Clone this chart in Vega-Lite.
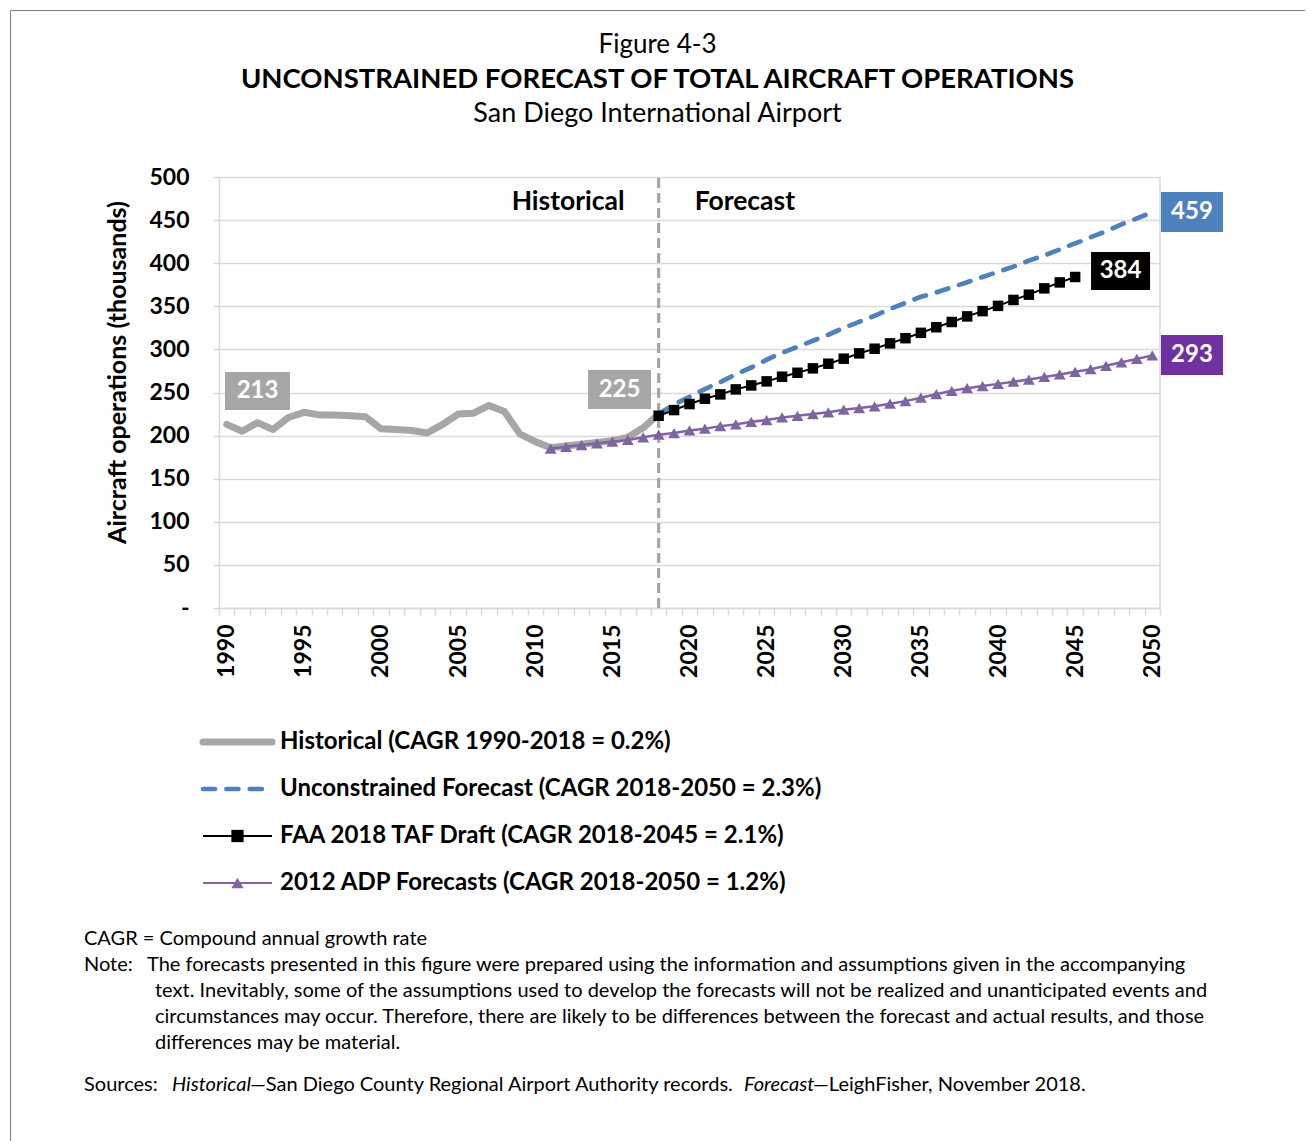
{
  "$schema": "https://vega.github.io/schema/vega-lite/v6.json",
  "width": 1295,
  "height": 1140,
  "autosize": {"type": "none"},
  "padding": {"left": 10, "top": 10, "right": 0, "bottom": 0},
  "background": "white",
  "config": {"view": {"stroke": "#7f7f7f", "strokeWidth": 1}, "font": "Lato"},
  "datasets": {
    "ops": [
      {"series": "Historical", "year": 1990, "value": 213},
      {"series": "Historical", "year": 1991, "value": 205},
      {"series": "Historical", "year": 1992, "value": 215},
      {"series": "Historical", "year": 1993, "value": 207},
      {"series": "Historical", "year": 1994, "value": 221},
      {"series": "Historical", "year": 1995, "value": 227},
      {"series": "Historical", "year": 1996, "value": 224},
      {"series": "Historical", "year": 1997, "value": 224},
      {"series": "Historical", "year": 1998, "value": 223},
      {"series": "Historical", "year": 1999, "value": 222},
      {"series": "Historical", "year": 2000, "value": 208},
      {"series": "Historical", "year": 2001, "value": 207},
      {"series": "Historical", "year": 2002, "value": 206},
      {"series": "Historical", "year": 2003, "value": 203},
      {"series": "Historical", "year": 2004, "value": 213},
      {"series": "Historical", "year": 2005, "value": 225},
      {"series": "Historical", "year": 2006, "value": 226},
      {"series": "Historical", "year": 2007, "value": 235},
      {"series": "Historical", "year": 2008, "value": 228},
      {"series": "Historical", "year": 2009, "value": 202},
      {"series": "Historical", "year": 2010, "value": 193},
      {"series": "Historical", "year": 2011, "value": 186},
      {"series": "Historical", "year": 2012, "value": 188},
      {"series": "Historical", "year": 2013, "value": 190},
      {"series": "Historical", "year": 2014, "value": 192},
      {"series": "Historical", "year": 2015, "value": 194},
      {"series": "Historical", "year": 2016, "value": 198},
      {"series": "Historical", "year": 2017, "value": 209},
      {"series": "Historical", "year": 2018, "value": 225},
      {"series": "Unconstrained", "year": 2018, "value": 225},
      {"series": "Unconstrained", "year": 2019, "value": 236},
      {"series": "Unconstrained", "year": 2020, "value": 245},
      {"series": "Unconstrained", "year": 2021, "value": 254},
      {"series": "Unconstrained", "year": 2022, "value": 262},
      {"series": "Unconstrained", "year": 2023, "value": 271},
      {"series": "Unconstrained", "year": 2024, "value": 279},
      {"series": "Unconstrained", "year": 2025, "value": 288},
      {"series": "Unconstrained", "year": 2026, "value": 296},
      {"series": "Unconstrained", "year": 2027, "value": 303},
      {"series": "Unconstrained", "year": 2028, "value": 310},
      {"series": "Unconstrained", "year": 2029, "value": 317},
      {"series": "Unconstrained", "year": 2030, "value": 325},
      {"series": "Unconstrained", "year": 2031, "value": 332},
      {"series": "Unconstrained", "year": 2032, "value": 339},
      {"series": "Unconstrained", "year": 2033, "value": 347},
      {"series": "Unconstrained", "year": 2034, "value": 354},
      {"series": "Unconstrained", "year": 2035, "value": 361},
      {"series": "Unconstrained", "year": 2036, "value": 366},
      {"series": "Unconstrained", "year": 2037, "value": 372},
      {"series": "Unconstrained", "year": 2038, "value": 378},
      {"series": "Unconstrained", "year": 2039, "value": 384},
      {"series": "Unconstrained", "year": 2040, "value": 390},
      {"series": "Unconstrained", "year": 2041, "value": 396},
      {"series": "Unconstrained", "year": 2042, "value": 403},
      {"series": "Unconstrained", "year": 2043, "value": 409},
      {"series": "Unconstrained", "year": 2044, "value": 416},
      {"series": "Unconstrained", "year": 2045, "value": 423},
      {"series": "Unconstrained", "year": 2046, "value": 430},
      {"series": "Unconstrained", "year": 2047, "value": 437},
      {"series": "Unconstrained", "year": 2048, "value": 445},
      {"series": "Unconstrained", "year": 2049, "value": 452},
      {"series": "Unconstrained", "year": 2050, "value": 459},
      {"series": "FAA", "year": 2018, "value": 223},
      {"series": "FAA", "year": 2019, "value": 229.6},
      {"series": "FAA", "year": 2020, "value": 236.6},
      {"series": "FAA", "year": 2021, "value": 242.8},
      {"series": "FAA", "year": 2022, "value": 247.8},
      {"series": "FAA", "year": 2023, "value": 253.6},
      {"series": "FAA", "year": 2024, "value": 258.2},
      {"series": "FAA", "year": 2025, "value": 262.9},
      {"series": "FAA", "year": 2026, "value": 268.3},
      {"series": "FAA", "year": 2027, "value": 272.9},
      {"series": "FAA", "year": 2028, "value": 278},
      {"series": "FAA", "year": 2029, "value": 283.4},
      {"series": "FAA", "year": 2030, "value": 289.2},
      {"series": "FAA", "year": 2031, "value": 295.4},
      {"series": "FAA", "year": 2032, "value": 300.8},
      {"series": "FAA", "year": 2033, "value": 307},
      {"series": "FAA", "year": 2034, "value": 313},
      {"series": "FAA", "year": 2035, "value": 319.2},
      {"series": "FAA", "year": 2036, "value": 325.7},
      {"series": "FAA", "year": 2037, "value": 331.8},
      {"series": "FAA", "year": 2038, "value": 338.3},
      {"series": "FAA", "year": 2039, "value": 344.4},
      {"series": "FAA", "year": 2040, "value": 350.5},
      {"series": "FAA", "year": 2041, "value": 357.4},
      {"series": "FAA", "year": 2042, "value": 363.5},
      {"series": "FAA", "year": 2043, "value": 370.8},
      {"series": "FAA", "year": 2044, "value": 377.7},
      {"series": "FAA", "year": 2045, "value": 384},
      {"series": "ADP", "year": 2011, "value": 185},
      {"series": "ADP", "year": 2012, "value": 187},
      {"series": "ADP", "year": 2013, "value": 189},
      {"series": "ADP", "year": 2014, "value": 191},
      {"series": "ADP", "year": 2015, "value": 193},
      {"series": "ADP", "year": 2016, "value": 195},
      {"series": "ADP", "year": 2017, "value": 198},
      {"series": "ADP", "year": 2018, "value": 201},
      {"series": "ADP", "year": 2019, "value": 203},
      {"series": "ADP", "year": 2020, "value": 206},
      {"series": "ADP", "year": 2021, "value": 208},
      {"series": "ADP", "year": 2022, "value": 211},
      {"series": "ADP", "year": 2023, "value": 213},
      {"series": "ADP", "year": 2024, "value": 216},
      {"series": "ADP", "year": 2025, "value": 218},
      {"series": "ADP", "year": 2026, "value": 221},
      {"series": "ADP", "year": 2027, "value": 223},
      {"series": "ADP", "year": 2028, "value": 225},
      {"series": "ADP", "year": 2029, "value": 227},
      {"series": "ADP", "year": 2030, "value": 230},
      {"series": "ADP", "year": 2031, "value": 232},
      {"series": "ADP", "year": 2032, "value": 234},
      {"series": "ADP", "year": 2033, "value": 237},
      {"series": "ADP", "year": 2034, "value": 240},
      {"series": "ADP", "year": 2035, "value": 244},
      {"series": "ADP", "year": 2036, "value": 248},
      {"series": "ADP", "year": 2037, "value": 252},
      {"series": "ADP", "year": 2038, "value": 255},
      {"series": "ADP", "year": 2039, "value": 257.5},
      {"series": "ADP", "year": 2040, "value": 260},
      {"series": "ADP", "year": 2041, "value": 262.5},
      {"series": "ADP", "year": 2042, "value": 265},
      {"series": "ADP", "year": 2043, "value": 268},
      {"series": "ADP", "year": 2044, "value": 271},
      {"series": "ADP", "year": 2045, "value": 274},
      {"series": "ADP", "year": 2046, "value": 277},
      {"series": "ADP", "year": 2047, "value": 281},
      {"series": "ADP", "year": 2048, "value": 285},
      {"series": "ADP", "year": 2049, "value": 289},
      {"series": "ADP", "year": 2050, "value": 293}
    ],
    "titles": [
      {"row": 0, "text": "Figure 4-3"},
      {"row": 1, "text": "UNCONSTRAINED FORECAST OF TOTAL AIRCRAFT OPERATIONS"},
      {"row": 2, "text": "San Diego International Airport"}
    ],
    "legend": [
      {"key": "Historical (CAGR 1990-2018 = 0.2%)"},
      {"key": "Unconstrained Forecast (CAGR 2018-2050 = 2.3%)"},
      {"key": "FAA 2018 TAF Draft (CAGR 2018-2045 = 2.1%)"},
      {"key": "2012 ADP Forecasts (CAGR 2018-2050 = 1.2%)"}
    ],
    "notes": [
      {"row": 0, "col": 0, "italic": false, "text": "CAGR = Compound annual growth rate"},
      {"row": 1, "col": 0, "italic": false, "text": "Note:"},
      {"row": 1, "col": 1, "italic": false, "text": "The forecasts presented in this figure were prepared using the information and assumptions given in the accompanying"},
      {"row": 2, "col": 2, "italic": false, "text": "text.  Inevitably, some of the assumptions used to develop the forecasts will not be realized and unanticipated events and"},
      {"row": 3, "col": 2, "italic": false, "text": "circumstances may occur.  Therefore, there are likely to be differences between the forecast and actual results, and those"},
      {"row": 4, "col": 2, "italic": false, "text": "differences may be material."},
      {"row": 5, "col": 0, "italic": false, "text": "Sources:"},
      {"row": 5, "col": 3, "italic": true, "text": "Historical"},
      {"row": 5, "col": 4, "italic": false, "text": "—San Diego County Regional Airport Authority records."},
      {"row": 5, "col": 5, "italic": true, "text": "Forecast"},
      {"row": 5, "col": 6, "italic": false, "text": "—LeighFisher, November 2018."}
    ]
  },
  "resolve": {"scale": {"x": "independent", "y": "independent", "color": "independent", "strokeDash": "independent", "shape": "independent"}},
  "layer": [
    {
      "data": {"name": "ops"},
      "transform": [{"filter": "datum.series === 'Historical' && datum.year === 1990"}],
      "mark": {"type": "rule", "color": "#d9d9d9", "strokeWidth": 1.5},
      "encoding": {
        "x": {"datum": 2050.5, "type": "quantitative", "scale": {"domain": [1989.5, 2050.5], "range": [209, 1150], "nice": false, "zero": false}, "axis": null},
        "y": {"datum": 0, "type": "quantitative", "scale": {"domain": [0, 500], "range": [598, 167], "nice": false, "zero": false}, "axis": null},
        "y2": {"datum": 500}
      }
    },
    {
      "data": {"name": "ops"},
      "transform": [{"filter": "datum.series === 'Historical' && datum.year === 2018"}],
      "mark": {"type": "rule", "color": "#a6a6a6", "strokeWidth": 3.2, "strokeDash": [10, 5]},
      "encoding": {
        "x": {"field": "year", "type": "quantitative", "scale": {"domain": [1989.5, 2050.5], "range": [209, 1150], "nice": false, "zero": false}, "axis": null},
        "y": {"datum": 0, "type": "quantitative", "scale": {"domain": [0, 500], "range": [598, 167], "nice": false, "zero": false}, "axis": null},
        "y2": {"datum": 503}
      }
    },
    {
      "data": {"name": "ops"},
      "transform": [{"filter": "datum.series === 'Historical'"}],
      "mark": {"type": "line", "color": "#a6a6a6", "strokeWidth": 7, "strokeCap": "round", "strokeJoin": "round"},
      "encoding": {
        "x": {
          "field": "year", "type": "quantitative",
          "scale": {"domain": [1989.5, 2050.5], "range": [209, 1150], "nice": false, "zero": false},
          "axis": {
            "orient": "bottom", "offset": -542, "title": null, "grid": false,
            "values": [1989.5,1990.5,1991.5,1992.5,1993.5,1994.5,1995.5,1996.5,1997.5,1998.5,1999.5,2000.5,2001.5,2002.5,2003.5,2004.5,2005.5,2006.5,2007.5,2008.5,2009.5,2010.5,2011.5,2012.5,2013.5,2014.5,2015.5,2016.5,2017.5,2018.5,2019.5,2020.5,2021.5,2022.5,2023.5,2024.5,2025.5,2026.5,2027.5,2028.5,2029.5,2030.5,2031.5,2032.5,2033.5,2034.5,2035.5,2036.5,2037.5,2038.5,2039.5,2040.5,2041.5,2042.5,2043.5,2044.5,2045.5,2046.5,2047.5,2048.5,2049.5,2050.5],
            "labelExpr": "(datum.value + 0.5) % 5 === 0 ? '' + (datum.value + 0.5) : ''",
            "labelAngle": 270, "labelOffset": 7.7, "labelFlush": false, "labelBound": false, "labelOverlap": false,
            "labelFont": "Lato", "labelFontSize": 23, "labelFontWeight": "bold", "labelColor": "#000000", "labelPadding": 9,
            "tickSize": 7, "tickColor": "#d9d9d9", "tickWidth": 1.5, "domainColor": "#d9d9d9", "domainWidth": 1.5
          }
        },
        "y": {
          "field": "value", "type": "quantitative",
          "scale": {"domain": [0, 500], "range": [598, 167], "nice": false, "zero": false},
          "axis": {
            "orient": "left", "offset": -209,
            "values": [0, 50, 100, 150, 200, 250, 300, 350, 400, 450, 500],
            "labelExpr": "datum.value === 0 ? '-\u2003' : datum.label",
            "labelFont": "Lato", "labelFontSize": 23, "labelFontWeight": "bold", "labelColor": "#000000", "labelPadding": 24,
            "tickSize": 6, "tickColor": "#d9d9d9", "tickWidth": 1.5, "domainColor": "#d9d9d9", "domainWidth": 1.5,
            "grid": true, "gridColor": "#d9d9d9", "gridWidth": 1.5,
            "title": "Aircraft operations (thousands)", "titleFont": "Lato", "titleFontSize": 25, "titleFontWeight": "bold", "titleColor": "#000000",
            "titleX": -89, "titleY": 362
          }
        }
      }
    },
    {
      "data": {"name": "ops"},
      "transform": [{"filter": "datum.series === 'Unconstrained'"}],
      "mark": {"type": "line", "color": "#4f81bd", "strokeWidth": 4.7, "strokeCap": "round", "strokeDash": [12, 11.4]},
      "encoding": {
        "x": {"field": "year", "type": "quantitative", "scale": {"domain": [1989.5, 2050.5], "range": [209, 1150], "nice": false, "zero": false}, "axis": null},
        "y": {"field": "value", "type": "quantitative", "scale": {"domain": [0, 500], "range": [598, 167], "nice": false, "zero": false}, "axis": null}
      }
    },
    {
      "data": {"name": "ops"},
      "transform": [{"filter": "datum.series === 'ADP'"}],
      "mark": {"type": "line", "color": "#8064a2", "strokeWidth": 2.5, "point": {"shape": "triangle-up", "size": 140, "filled": true, "color": "#8064a2"}},
      "encoding": {
        "x": {"field": "year", "type": "quantitative", "scale": {"domain": [1989.5, 2050.5], "range": [209, 1150], "nice": false, "zero": false}, "axis": null},
        "y": {"field": "value", "type": "quantitative", "scale": {"domain": [0, 500], "range": [598, 167], "nice": false, "zero": false}, "axis": null}
      }
    },
    {
      "data": {"name": "ops"},
      "transform": [{"filter": "datum.series === 'FAA'"}],
      "mark": {"type": "line", "color": "#000000", "strokeWidth": 2, "point": {"shape": "square", "size": 110, "filled": true, "color": "#000000"}},
      "encoding": {
        "x": {"field": "year", "type": "quantitative", "scale": {"domain": [1989.5, 2050.5], "range": [209, 1150], "nice": false, "zero": false}, "axis": null},
        "y": {"field": "value", "type": "quantitative", "scale": {"domain": [0, 500], "range": [598, 167], "nice": false, "zero": false}, "axis": null}
      }
    },
    {
      "data": {"name": "ops"},
      "encoding": {
        "x": {"field": "year", "type": "quantitative", "scale": {"domain": [1989.5, 2050.5], "range": [209, 1150], "nice": false, "zero": false}, "axis": null},
        "y": {"field": "value", "type": "quantitative", "scale": {"domain": [0, 500], "range": [598, 167], "nice": false, "zero": false}, "axis": null},
        "x2": {"field": "year"},
        "y2": {"field": "value"},
        "text": {"field": "value", "type": "quantitative", "format": "d"}
      },
      "layer": [
        {
          "transform": [{"filter": "datum.series === 'Historical' && datum.year === 1990"}],
          "mark": {"type": "rect", "color": "#a6a6a6", "xOffset": -1.7, "x2Offset": 63.3, "yOffset": -52.4, "y2Offset": -14.4}
        },
        {
          "transform": [{"filter": "datum.series === 'Historical' && datum.year === 1990"}],
          "mark": {"type": "text", "color": "#ffffff", "fontSize": 24, "fontWeight": "bold", "align": "center", "baseline": "middle", "dx": 30.8, "dy": -33.4}
        },
        {
          "transform": [{"filter": "datum.series === 'Historical' && datum.year === 2018"}],
          "mark": {"type": "rect", "color": "#a6a6a6", "xOffset": -70.6, "x2Offset": -7.6, "yOffset": -44, "y2Offset": -5}
        },
        {
          "transform": [{"filter": "datum.series === 'Historical' && datum.year === 2018"}],
          "mark": {"type": "text", "color": "#ffffff", "fontSize": 24, "fontWeight": "bold", "align": "center", "baseline": "middle", "dx": -39.1, "dy": -24.5}
        },
        {
          "transform": [{"filter": "datum.series === 'Unconstrained' && datum.year === 2050"}],
          "mark": {"type": "rect", "color": "#4f81bd", "xOffset": 8.7, "x2Offset": 70.7, "yOffset": -20.3, "y2Offset": 19.7}
        },
        {
          "transform": [{"filter": "datum.series === 'Unconstrained' && datum.year === 2050"}],
          "mark": {"type": "text", "color": "#ffffff", "fontSize": 24, "fontWeight": "bold", "align": "center", "baseline": "middle", "dx": 39.7, "dy": 0}
        },
        {
          "transform": [{"filter": "datum.series === 'FAA' && datum.year === 2045"}],
          "mark": {"type": "rect", "color": "#000000", "xOffset": 15.9, "x2Offset": 74.9, "yOffset": -25, "y2Offset": 13}
        },
        {
          "transform": [{"filter": "datum.series === 'FAA' && datum.year === 2045"}],
          "mark": {"type": "text", "color": "#ffffff", "fontSize": 24, "fontWeight": "bold", "align": "center", "baseline": "middle", "dx": 45.4, "dy": -6}
        },
        {
          "transform": [{"filter": "datum.series === 'ADP' && datum.year === 2050"}],
          "mark": {"type": "rect", "color": "#7030a0", "xOffset": 8.7, "x2Offset": 70.7, "yOffset": -20.4, "y2Offset": 19.6}
        },
        {
          "transform": [{"filter": "datum.series === 'ADP' && datum.year === 2050"}],
          "mark": {"type": "text", "color": "#ffffff", "fontSize": 24, "fontWeight": "bold", "align": "center", "baseline": "middle", "dx": 39.7, "dy": 0}
        }
      ]
    },
    {
      "data": {"name": "ops"},
      "transform": [{"filter": "datum.series === 'Historical' && datum.year === 2018"}],
      "encoding": {
        "x": {"field": "year", "type": "quantitative", "scale": {"domain": [1989.5, 2050.5], "range": [209, 1150], "nice": false, "zero": false}, "axis": null},
        "y": {"datum": 462, "type": "quantitative", "scale": {"domain": [0, 500], "range": [598, 167], "nice": false, "zero": false}, "axis": null}
      },
      "layer": [
        {"mark": {"type": "text", "text": "Historical", "color": "#000000", "fontSize": 26.5, "fontWeight": "bold", "align": "right", "baseline": "alphabetic", "dx": -34}},
        {"mark": {"type": "text", "text": "Forecast", "color": "#000000", "fontSize": 26.5, "fontWeight": "bold", "align": "left", "baseline": "alphabetic", "dx": 36}}
      ]
    },
    {
      "data": {"name": "titles"},
      "encoding": {
        "x": {"datum": 0, "type": "quantitative", "scale": {"domain": [-1, 1], "range": [0, 1295], "nice": false, "zero": false}, "axis": null},
        "y": {"field": "row", "type": "quantitative", "scale": {"domain": [0, 1, 2], "range": [43, 78, 112], "nice": false, "zero": false}, "axis": null},
        "text": {"field": "text"}
      },
      "layer": [
        {
          "transform": [{"filter": "datum.row === 0"}],
          "mark": {"type": "text", "color": "#000000", "fontSize": 26, "align": "center", "baseline": "alphabetic"}
        },
        {
          "transform": [{"filter": "datum.row === 2"}],
          "mark": {"type": "text", "color": "#000000", "fontSize": 27, "align": "center", "baseline": "alphabetic"}
        },
        {
          "transform": [{"filter": "datum.row === 1"}],
          "mark": {"type": "text", "color": "#000000", "fontSize": 27.5, "fontWeight": "bold", "align": "center", "baseline": "alphabetic"}
        }
      ]
    },
    {
      "data": {"name": "legend"},
      "encoding": {
        "x": {"datum": 0, "type": "quantitative", "scale": {"domain": [0, 1], "range": [193, 262], "nice": false, "zero": false}, "axis": null},
        "y": {
          "field": "key", "type": "nominal", "sort": null,
          "scale": {"type": "point", "domain": ["Historical (CAGR 1990-2018 = 0.2%)", "Unconstrained Forecast (CAGR 2018-2050 = 2.3%)", "FAA 2018 TAF Draft (CAGR 2018-2045 = 2.1%)", "2012 ADP Forecasts (CAGR 2018-2050 = 1.2%)"], "range": [732, 873], "padding": 0},
          "axis": null
        }
      },
      "layer": [
        {
          "transform": [{"filter": "indexof(datum.key, 'Historical') === 0"}],
          "mark": {"type": "rule", "strokeCap": "round", "color": "#a6a6a6", "strokeWidth": 7},
          "encoding": {"x2": {"datum": 1}}
        },
        {
          "transform": [{"filter": "indexof(datum.key, 'Unconstrained') === 0"}],
          "mark": {"type": "rule", "strokeCap": "round", "color": "#4f81bd", "strokeWidth": 4.7, "strokeDash": [12, 11.4]},
          "encoding": {"x2": {"datum": 1}}
        },
        {
          "transform": [{"filter": "indexof(datum.key, 'FAA') === 0 || indexof(datum.key, '2012') === 0"}],
          "mark": {"type": "rule", "strokeWidth": 2},
          "encoding": {
            "x2": {"datum": 1},
            "color": {"field": "key", "type": "nominal", "scale": {"domain": ["FAA 2018 TAF Draft (CAGR 2018-2045 = 2.1%)", "2012 ADP Forecasts (CAGR 2018-2050 = 1.2%)"], "range": ["#000000", "#8064a2"]}, "legend": null}
          }
        },
        {
          "transform": [{"filter": "indexof(datum.key, 'FAA') === 0 || indexof(datum.key, '2012') === 0"}],
          "mark": {"type": "point", "filled": true, "size": 150, "opacity": 1},
          "encoding": {
            "x": {"datum": 0.5, "type": "quantitative"},
            "shape": {"field": "key", "type": "nominal", "scale": {"domain": ["FAA 2018 TAF Draft (CAGR 2018-2045 = 2.1%)", "2012 ADP Forecasts (CAGR 2018-2050 = 1.2%)"], "range": ["square", "triangle-up"]}, "legend": null},
            "color": {"field": "key", "type": "nominal", "scale": {"domain": ["FAA 2018 TAF Draft (CAGR 2018-2045 = 2.1%)", "2012 ADP Forecasts (CAGR 2018-2050 = 1.2%)"], "range": ["#000000", "#8064a2"]}, "legend": null}
          }
        },
        {
          "mark": {"type": "text", "color": "#000000", "fontSize": 24, "fontWeight": "bold", "align": "left", "baseline": "middle", "dx": 8},
          "encoding": {
            "x": {"datum": 1, "type": "quantitative"},
            "text": {"field": "key"}
          }
        }
      ]
    },
    {
      "data": {"name": "notes"},
      "encoding": {
        "x": {"field": "col", "type": "quantitative", "scale": {"domain": [0, 1, 2, 3, 4, 5, 6], "range": [74, 137, 145, 162, 240, 734, 803], "nice": false, "zero": false}, "axis": null},
        "y": {"field": "row", "type": "quantitative", "scale": {"domain": [0, 4, 5], "range": [935, 1039, 1081], "nice": false, "zero": false}, "axis": null},
        "text": {"field": "text"}
      },
      "layer": [
        {
          "transform": [{"filter": "!datum.italic"}],
          "mark": {"type": "text", "color": "#000000", "fontSize": 20, "align": "left", "baseline": "alphabetic"}
        },
        {
          "transform": [{"filter": "datum.italic"}],
          "mark": {"type": "text", "color": "#000000", "fontSize": 20, "fontStyle": "italic", "align": "left", "baseline": "alphabetic"}
        }
      ]
    }
  ]
}
